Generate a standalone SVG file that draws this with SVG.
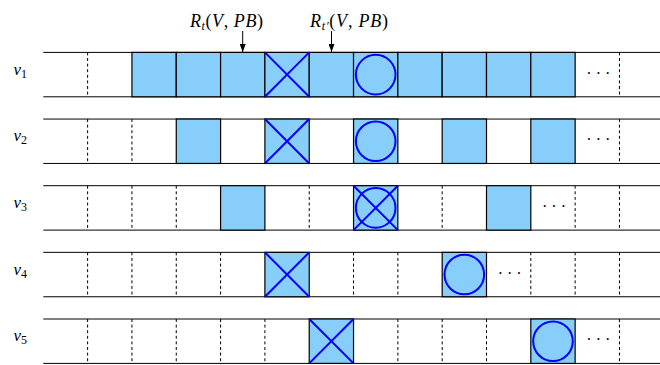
<svg xmlns="http://www.w3.org/2000/svg" width="660" height="365" viewBox="0 0 660 365">
<style>
.hl{stroke:#000;stroke-width:1;fill:none}
.dl{stroke:#000;stroke-width:1;stroke-dasharray:3 2.6;fill:none}
.box{fill:#87CEFA;stroke:#000;stroke-width:1.2}
.mk{stroke:#0000FF;stroke-width:2;fill:none}
.lbl{font-family:"Liberation Serif","DejaVu Serif",serif;font-style:italic;font-size:17px;fill:#000}
.top{font-size:18px}
.sub{font-size:12px}
.up{font-style:normal}
.dots{font-family:"Liberation Serif","DejaVu Serif",serif;font-size:16px;letter-spacing:4px;fill:#000}
.conn{stroke:#000;stroke-width:1;fill:none}
</style>
<defs>
<marker id="ah" viewBox="0 0 8 6" refX="8" refY="3" markerWidth="8" markerHeight="6" markerUnits="userSpaceOnUse" orient="auto">
<path d="M0,0 L8,3 L0,6 Z" fill="#000"/>
</marker>
</defs>

<g id="row1" transform="translate(0,52.4)">
<line class="hl" x1="43.3" y1="0" x2="660" y2="0"/>
<line class="hl" x1="43.3" y1="44.4" x2="660" y2="44.4"/>
<line class="dl" x1="87.62" y1="0" x2="87.62" y2="44.4"/>
<line class="dl" x1="619.46" y1="0" x2="619.46" y2="44.4"/>
<rect class="box" x="131.94" y="0" width="44.32" height="44.4"/>
<rect class="box" x="176.26" y="0" width="44.32" height="44.4"/>
<rect class="box" x="220.58" y="0" width="44.32" height="44.4"/>
<rect class="box" x="264.9" y="0" width="44.32" height="44.4"/>
<rect class="box" x="309.22" y="0" width="44.32" height="44.4"/>
<rect class="box" x="353.54" y="0" width="44.32" height="44.4"/>
<rect class="box" x="397.86" y="0" width="44.32" height="44.4"/>
<rect class="box" x="442.18" y="0" width="44.32" height="44.4"/>
<rect class="box" x="486.5" y="0" width="44.32" height="44.4"/>
<rect class="box" x="530.82" y="0" width="44.32" height="44.4"/>
<path class="mk" d="M264.9,0 L309.22,44.4 M309.22,0 L264.9,44.4"/>
<circle class="mk" cx="375.7" cy="22.2" r="19.8"/>
<text class="dots" x="586.3" y="26.3">···</text>
<text class="lbl" x="13.5" y="22.4">v<tspan class="sub up" dy="3">1</tspan></text>
</g>

<g id="row2" transform="translate(0,119.05)">
<line class="hl" x1="43.3" y1="0" x2="660" y2="0"/>
<line class="hl" x1="43.3" y1="44.4" x2="660" y2="44.4"/>
<line class="dl" x1="87.62" y1="0" x2="87.62" y2="44.4"/>
<line class="dl" x1="131.94" y1="0" x2="131.94" y2="44.4"/>
<line class="dl" x1="619.46" y1="0" x2="619.46" y2="44.4"/>
<rect class="box" x="176.26" y="0" width="44.32" height="44.4"/>
<rect class="box" x="264.9" y="0" width="44.32" height="44.4"/>
<rect class="box" x="353.54" y="0" width="44.32" height="44.4"/>
<rect class="box" x="442.18" y="0" width="44.32" height="44.4"/>
<rect class="box" x="530.82" y="0" width="44.32" height="44.4"/>
<path class="mk" d="M264.9,0 L309.22,44.4 M309.22,0 L264.9,44.4"/>
<circle class="mk" cx="375.7" cy="22.2" r="19.8"/>
<text class="dots" x="586.3" y="26.3">···</text>
<text class="lbl" x="13.5" y="22.4">v<tspan class="sub up" dy="3">2</tspan></text>
</g>

<g id="row3" transform="translate(0,185.7)">
<line class="hl" x1="43.3" y1="0" x2="660" y2="0"/>
<line class="hl" x1="43.3" y1="44.4" x2="660" y2="44.4"/>
<line class="dl" x1="87.62" y1="0" x2="87.62" y2="44.4"/>
<line class="dl" x1="131.94" y1="0" x2="131.94" y2="44.4"/>
<line class="dl" x1="176.26" y1="0" x2="176.26" y2="44.4"/>
<line class="dl" x1="309.22" y1="0" x2="309.22" y2="44.4"/>
<line class="dl" x1="442.18" y1="0" x2="442.18" y2="44.4"/>
<line class="dl" x1="575.14" y1="0" x2="575.14" y2="44.4"/>
<line class="dl" x1="619.46" y1="0" x2="619.46" y2="44.4"/>
<rect class="box" x="220.58" y="0" width="44.32" height="44.4"/>
<rect class="box" x="353.54" y="0" width="44.32" height="44.4"/>
<rect class="box" x="486.5" y="0" width="44.32" height="44.4"/>
<path class="mk" d="M353.54,0 L397.86,44.4 M397.86,0 L353.54,44.4"/>
<circle class="mk" cx="375.7" cy="22.2" r="19.8"/>
<text class="dots" x="542" y="26.3">···</text>
<text class="lbl" x="13.5" y="22.4">v<tspan class="sub up" dy="3">3</tspan></text>
</g>

<g id="row4" transform="translate(0,252.35)">
<line class="hl" x1="43.3" y1="0" x2="660" y2="0"/>
<line class="hl" x1="43.3" y1="44.4" x2="660" y2="44.4"/>
<line class="dl" x1="87.62" y1="0" x2="87.62" y2="44.4"/>
<line class="dl" x1="131.94" y1="0" x2="131.94" y2="44.4"/>
<line class="dl" x1="176.26" y1="0" x2="176.26" y2="44.4"/>
<line class="dl" x1="220.58" y1="0" x2="220.58" y2="44.4"/>
<line class="dl" x1="353.54" y1="0" x2="353.54" y2="44.4"/>
<line class="dl" x1="397.86" y1="0" x2="397.86" y2="44.4"/>
<line class="dl" x1="530.82" y1="0" x2="530.82" y2="44.4"/>
<line class="dl" x1="575.14" y1="0" x2="575.14" y2="44.4"/>
<line class="dl" x1="619.46" y1="0" x2="619.46" y2="44.4"/>
<rect class="box" x="264.9" y="0" width="44.32" height="44.4"/>
<rect class="box" x="442.18" y="0" width="44.32" height="44.4"/>
<path class="mk" d="M264.9,0 L309.22,44.4 M309.22,0 L264.9,44.4"/>
<circle class="mk" cx="464.34" cy="22.2" r="19.8"/>
<text class="dots" x="497.7" y="26.3">···</text>
<text class="lbl" x="13.5" y="22.4">v<tspan class="sub up" dy="3">4</tspan></text>
</g>

<g id="row5" transform="translate(0,319)">
<line class="hl" x1="43.3" y1="0" x2="660" y2="0"/>
<line class="hl" x1="43.3" y1="44.4" x2="660" y2="44.4"/>
<line class="dl" x1="87.62" y1="0" x2="87.62" y2="44.4"/>
<line class="dl" x1="131.94" y1="0" x2="131.94" y2="44.4"/>
<line class="dl" x1="176.26" y1="0" x2="176.26" y2="44.4"/>
<line class="dl" x1="220.58" y1="0" x2="220.58" y2="44.4"/>
<line class="dl" x1="264.9" y1="0" x2="264.9" y2="44.4"/>
<line class="dl" x1="397.86" y1="0" x2="397.86" y2="44.4"/>
<line class="dl" x1="442.18" y1="0" x2="442.18" y2="44.4"/>
<line class="dl" x1="486.5" y1="0" x2="486.5" y2="44.4"/>
<line class="dl" x1="619.46" y1="0" x2="619.46" y2="44.4"/>
<rect class="box" x="309.22" y="0" width="44.32" height="44.4"/>
<rect class="box" x="530.82" y="0" width="44.32" height="44.4"/>
<path class="mk" d="M309.22,0 L353.54,44.4 M353.54,0 L309.22,44.4"/>
<circle class="mk" cx="552.98" cy="22.2" r="19.8"/>
<text class="dots" x="586.3" y="26.3">···</text>
<text class="lbl" x="13.5" y="22.4">v<tspan class="sub up" dy="3">5</tspan></text>
</g>

<g id="label-rt">
<text class="lbl top" x="190" y="26.5" textLength="73" lengthAdjust="spacing">R<tspan class="sub" dy="3">t</tspan><tspan class="up" dy="-3">(</tspan>V<tspan class="up">, </tspan>PB<tspan class="up">)</tspan></text>
</g>
<g id="label-rt2">
<text class="lbl top" x="310" y="26.5" textLength="78" lengthAdjust="spacing">R<tspan class="sub" dy="3">t′</tspan><tspan class="up" dy="-3">(</tspan>V<tspan class="up">, </tspan>PB<tspan class="up">)</tspan></text>
</g>

<g id="connectors">
<line class="conn" x1="242.7" y1="31" x2="242.7" y2="52" marker-end="url(#ah)"/>
<line class="conn" x1="331.5" y1="31" x2="331.5" y2="52" marker-end="url(#ah)"/>
</g>
</svg>
